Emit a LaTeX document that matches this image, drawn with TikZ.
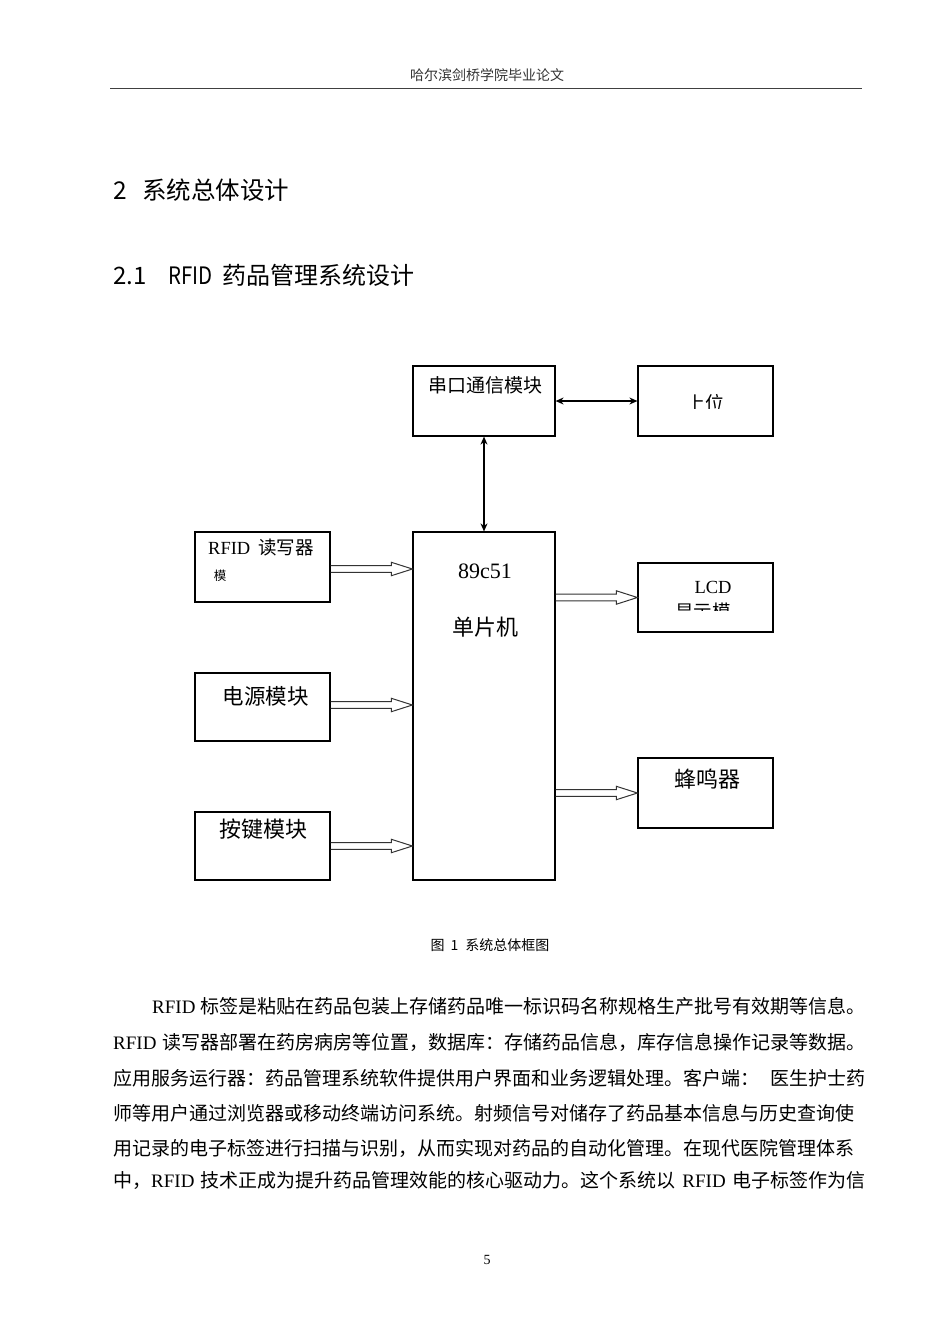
\documentclass[tikz,border=0pt]{standalone}
\usepackage{fontspec}
\setmainfont{Liberation Serif}
\newfontfamily\cjk{Noto Sans CJK SC}
\usetikzlibrary{arrows.meta,calc}
\XeTeXlinebreaklocale "zh"
\XeTeXlinebreakskip=0pt plus 3pt
\newcommand{\zh}[1]{{\cjk #1}}
\newcommand{\hollowarrow}[2]{%
  \draw [hollow] let \p1 = (#1), \p2 = (#2) in
    (\x1, \y1 + 3.3pt) -- (\x2 - 21pt, \y1 + 3.3pt) -- (\x2 - 21pt, \y1 + 6.7pt)
    -- (\x2, \y1) -- (\x2 - 21pt, \y1 - 6.7pt) -- (\x2 - 21pt, \y1 - 3.3pt)
    -- (\x1, \y1 - 3.3pt);}

\begin{document}
\begin{tikzpicture}[x=1pt, y=-1pt,
  blockbox/.style = {draw, line width=1.2pt, inner sep=0pt},
  label/.style = {inner sep=0pt, font=\fontsize{19pt}{21pt}\selectfont},
  biarrow/.style = {line width=1.2pt, {Stealth[length=8pt,width=7pt]}-{Stealth[length=8pt,width=7pt]}},
  hollow/.style = {line width=1pt, draw=black!80},
  bodyline/.style = {anchor=west, inner sep=0pt, font=\fontsize{19pt}{21pt}\selectfont}]
  \useasboundingbox (0, 0) rectangle (950, 1344);
  % page header
  \node (head) at (487, 75) {\fontsize{14pt}{16pt}\selectfont\color{black!80}\zh{哈尔滨剑桥学院毕业论文}};
  \coordinate (ruleL) at (110, 88);
  \coordinate (ruleR) at (862, 88);
  \draw [line width=0.8pt, black!75] (ruleL) -- (ruleR);
  % headings
  \node [anchor=west, inner sep=0pt] (chap) at (113, 190) {\fontsize{24.5pt}{27pt}\selectfont\cjk\makebox[29pt][l]{2}系统总体设计};
  \node [anchor=west, inner sep=0pt] (sect) at (113, 275) {\fontsize{24pt}{27pt}\selectfont\cjk\makebox[55pt][l]{2.1}\makebox[54pt][l]{\scalebox{0.85}[1]{RFID}}药品管理系统设计};
  % boxes
  \node [blockbox, minimum width=142pt, minimum height=70pt] (serial) at (484, 401) {};
  \node [blockbox, minimum width=135pt, minimum height=70pt] (host) at (705.5, 401) {};
  \node [blockbox, minimum width=142pt, minimum height=348pt] (mcu) at (484, 706) {};
  \node [blockbox, minimum width=135pt, minimum height=70pt] (rfid) at (262.5, 567) {};
  \node [blockbox, minimum width=135pt, minimum height=68pt] (power) at (262.5, 707) {};
  \node [blockbox, minimum width=135pt, minimum height=68pt] (keys) at (262.5, 846) {};
  \node [blockbox, minimum width=135pt, minimum height=69pt] (lcd) at (705.5, 597.5) {};
  \node [blockbox, minimum width=135pt, minimum height=70pt] (buzzer) at (705.5, 793) {};
  % box texts
  \node [label] (serialtxt) at (485, 385) {\zh{串口通信模块}};
  \node [label, font=\fontsize{22pt}{24pt}\selectfont] (mcutxt) at (485, 571) {89c51};
  \node [label, font=\fontsize{22pt}{24pt}\selectfont] (mcuname) at (485, 627) {\zh{单片机}};
  \node [label, anchor=west, font=\fontsize{18.5pt}{21pt}\selectfont] (rfidtxt) at (208, 548) {RFID\hspace{8pt}\zh{读写器}};
  \node [label, font=\fontsize{18.5pt}{21pt}\selectfont] (lcdtxt) at (713, 587) {LCD};
  \node [label, font=\fontsize{21.5pt}{24pt}\selectfont] (powertxt) at (265.5, 696) {\zh{电源模块}};
  \node [label, font=\fontsize{22pt}{24pt}\selectfont] (keystxt) at (263.5, 829) {\zh{按键模块}};
  \node [label, font=\fontsize{22pt}{24pt}\selectfont] (buzzertxt) at (707.5, 779) {\zh{蜂鸣器}};
  % cut-off texts
  \begin{scope}
    \clip (640, 368) rectangle (771, 408.5);
    \node [label] (hosttxt) at (705, 403) {\zh{上位}};
  \end{scope}
  \begin{scope}
    \clip (197, 560) rectangle (328, 580.5);
    \node [label, font=\fontsize{12.5pt}{14pt}\selectfont] (rfidmore) at (220, 575.5) {\zh{模}};
  \end{scope}
  \begin{scope}
    \clip (640, 595) rectangle (771, 610.5);
    \node [label, font=\fontsize{18.5pt}{21pt}\selectfont] (lcdmore) at (703, 611) {\zh{显示模}};
  \end{scope}
  % connectors
  \draw [biarrow] (serial.east) -- (host.west);
  \draw [biarrow] (serial.south) -- (mcu.north);
  \hollowarrow{[yshift=-2pt]rfid.east}{[yshift=-2pt]rfid.east -| mcu.west}
  \hollowarrow{[yshift=2pt]power.east}{[yshift=2pt]power.east -| mcu.west}
  \hollowarrow{keys.east}{keys.east -| mcu.west}
  \hollowarrow{mcu.east |- lcd.west}{lcd.west}
  \hollowarrow{mcu.east |- buzzer.west}{buzzer.west}
  % caption
  \node (caption) at (490, 945) {\fontsize{14pt}{16pt}\selectfont\zh{图\hspace{6pt}1\hspace{7pt}系统总体框图}};
  % body text
  \node [bodyline] (line1) at (152, 1006) {\makebox[713pt][s]{RFID \zh{标签是粘贴在药品包装上存储药品唯一标识码名称规格生产批号有效期等信息。}}};
  \node [bodyline] (line2) at (113, 1042) {\makebox[752pt][s]{RFID \zh{读写器部署在药房病房等位置，数据库：存储药品信息，库存信息操作记录等数据。}}};
  \node [bodyline] (line3) at (113, 1078) {\makebox[752pt][s]{\zh{应用服务运行器：药品管理系统软件提供用户界面和业务逻辑处理。客户端：}\hspace{10pt plus 2pt}\zh{医生护士药}}};
  \node [bodyline] (line4) at (113, 1113) {\makebox[752pt][s]{\zh{师等用户通过浏览器或移动终端访问系统。射频信号对储存了药品基本信息与历史查询使}}};
  \node [bodyline] (line5) at (113, 1148) {\makebox[752pt][s]{\zh{用记录的电子标签进行扫描与识别，从而实现对药品的自动化管理。在现代医院管理体系}}};
  \node [bodyline] (line6) at (113, 1180) {\makebox[752pt][s]{\zh{中，}RFID \zh{技术正成为提升药品管理效能的核心驱动力。这个系统以} RFID \zh{电子标签作为信}}};
  % page number
  \node (pagenum) at (487, 1260) {\fontsize{14pt}{16pt}\selectfont 5};
\end{tikzpicture}
\end{document}
